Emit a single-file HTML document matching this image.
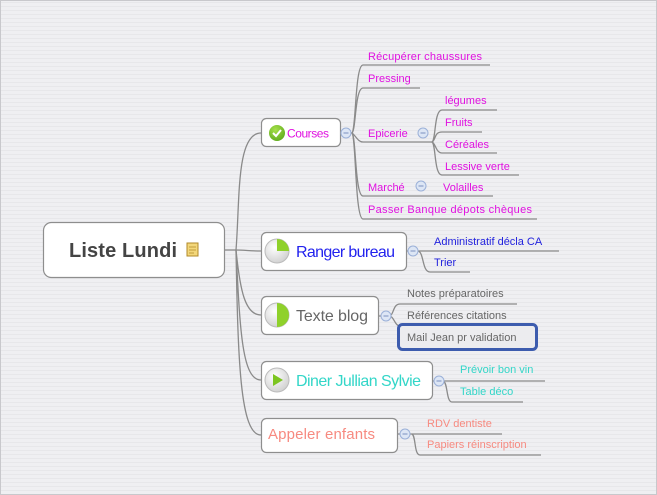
<!DOCTYPE html>
<html><head><meta charset="utf-8"><style>
html,body{margin:0;padding:0;width:657px;height:495px;overflow:hidden;background:#ededf0;}
svg{display:block}
text{font-family:"Liberation Sans","DejaVu Sans",sans-serif;}
</style></head><body>
<svg width="657" height="495" viewBox="0 0 657 495">
<defs>
<pattern id="st" width="4" height="4" patternUnits="userSpaceOnUse"><rect width="4" height="4" fill="#efeff2"/><rect y="2" width="4" height="1" fill="#e7e7ea"/></pattern>
<radialGradient id="gr" cx="0.4" cy="0.35" r="0.7"><stop offset="0" stop-color="#fff"/><stop offset="1" stop-color="#cfcfcf"/></radialGradient>
<radialGradient id="gg" cx="0.4" cy="0.3" r="0.8"><stop offset="0" stop-color="#a6e04a"/><stop offset="1" stop-color="#5aa71a"/></radialGradient>
</defs>
<rect width="657" height="495" fill="url(#st)"/>
<rect x="0.5" y="0.5" width="656" height="494" fill="none" stroke="#c8c8cc"/>
<g fill="none" stroke="#8a8a8a" stroke-width="1.3">
<path d="M224 250 H236"/>
<path d="M236 250 C240 200 236 133 261 133"/>
<path d="M236 250 C245 250 250 251 261 251"/>
<path d="M236 250 C240 290 245 315 261 315"/>
<path d="M236 250 C240 330 242 380 261 380"/>
<path d="M236 250 C238 360 240 435 261 435"/>
<path d="M340 133 H352"/>
<path d="M352 133 C356 130 355 65 363 65 H490"/>
<path d="M352 133 C356 130 355 88 363 88 H420"/>
<path d="M352 133 C356 136 358 142 363 142 H428"/>
<path d="M352 133 C356 136 355 196 363 196 H493"/>
<path d="M352 133 C356 136 355 219 363 219 H537"/>
<path d="M428 142 H432 C436 140 434 110 442 110 H497"/>
<path d="M432 142 C436 140 434 132 442 132 H482"/>
<path d="M432 142 C436 144 436 153 442 153 H497"/>
<path d="M432 142 C436 144 434 175 442 175 H519"/>
<path d="M406 251 H420 H559"/>
<path d="M418 251 C424 252 422 272 430 272 H470"/>
<path d="M378 316 H390"/>
<path d="M390 316 C394 314 393 304 400 304 H517"/>
<path d="M390 316 C394 317 395 326 400 326"/>
<path d="M432 381 H545"/>
<path d="M443 381 C448 382 446 402 452 402 H523"/>
<path d="M397 434 H410 C414 434 414 434 418 434 H502"/>
<path d="M412 434 C416 436 414 455 420 455 H541"/>
</g>
<rect x="43.5" y="222.5" width="181" height="55" rx="8" fill="#fff" stroke="#8e8e8e" stroke-width="1.2"/>
<text x="69" y="257" font-size="20" font-weight="bold" fill="#444" textLength="108">Liste Lundi</text>
<rect x="187" y="243" width="11" height="13" fill="#f3d77a" stroke="#b08a2a"/>
<path d="M189 247h7M189 250h7M189 253h5" stroke="#b08a2a" stroke-width="0.8"/>
<rect x="261.5" y="118.5" width="79" height="28" rx="5" fill="#fff" stroke="#8e8e8e" stroke-width="1.2"/>
<circle cx="277" cy="133" r="8" fill="url(#gg)"/>
<path d="M273 133 l3 3 l5 -6" stroke="#fff" stroke-width="2" fill="none"/>
<text x="287" y="137.5" font-size="12" fill="#e010e0" textLength="42">Courses</text>
<g font-size="11" fill="#e010e0">
<text x="368" y="60" textLength="114">Récupérer chaussures</text>
<text x="368" y="82">Pressing</text>
<text x="368" y="137">Epicerie</text>
<text x="445" y="104">légumes</text>
<text x="445" y="126">Fruits</text>
<text x="445" y="148">Céréales</text>
<text x="445" y="170">Lessive verte</text>
<text x="368" y="191">Marché</text>
<text x="443" y="191">Volailles</text>
<text x="368" y="213" textLength="164">Passer Banque dépots chèques</text>
</g>
<rect x="261.5" y="232.5" width="145" height="38" rx="5" fill="#fff" stroke="#8e8e8e" stroke-width="1.2"/>
<circle cx="277" cy="251" r="12" fill="url(#gr)" stroke="#bbb"/>
<path d="M277 251 V239 A12 12 0 0 1 289 251 Z" fill="#8fd12b"/>
<text x="296" y="257" font-size="16" fill="#2222ee" textLength="99">Ranger bureau</text>
<g font-size="11" fill="#2222dd">
<text x="434" y="245">Administratif décla CA</text>
<text x="434" y="266">Trier</text>
</g>
<rect x="261.5" y="296.5" width="117" height="38" rx="5" fill="#fff" stroke="#8e8e8e" stroke-width="1.2"/>
<circle cx="277" cy="315" r="12" fill="url(#gr)" stroke="#bbb"/>
<path d="M277 303 A12 12 0 0 1 277 327 Z" fill="#8fd12b"/>
<text x="296" y="321" font-size="16" fill="#666" textLength="72">Texte blog</text>
<g font-size="11" fill="#666">
<text x="407" y="297">Notes préparatoires</text>
<text x="407" y="319">Références citations</text>
</g>
<rect x="398.5" y="324.5" width="138" height="25" rx="4" fill="#ececef" stroke="#3d5cae" stroke-width="3"/>
<text x="407" y="341" font-size="11" fill="#666">Mail Jean pr validation</text>
<rect x="261.5" y="361.5" width="171" height="38" rx="5" fill="#fff" stroke="#8e8e8e" stroke-width="1.2"/>
<circle cx="277" cy="380" r="12" fill="url(#gr)" stroke="#bbb"/>
<path d="M273 374 L283 380 L273 386 Z" fill="#7cc520"/>
<text x="296" y="386" font-size="16" fill="#33d6c8" textLength="125">Diner Jullian Sylvie</text>
<g font-size="11" fill="#33d6c8">
<text x="460" y="373">Prévoir bon vin</text>
<text x="460" y="395">Table déco</text>
</g>
<rect x="261.5" y="418.5" width="136" height="34" rx="5" fill="#fff" stroke="#8e8e8e" stroke-width="1.2"/>
<text x="268" y="439" font-size="15" fill="#f78a80" textLength="107">Appeler enfants</text>
<g font-size="11" fill="#f78a80">
<text x="427" y="427">RDV dentiste</text>
<text x="427" y="448">Papiers réinscription</text>
</g>
<g fill="#dde6f5" stroke="#9bb0d8" stroke-width="1">
<circle cx="346" cy="133" r="5"/><circle cx="423" cy="133" r="5"/><circle cx="421" cy="186" r="5"/>
<circle cx="413" cy="251" r="5"/><circle cx="386" cy="316" r="5"/><circle cx="439" cy="381" r="5"/><circle cx="405" cy="434" r="5"/>
</g>
<g stroke="#7b90c0" stroke-width="1">
<path d="M343.5 133h5M420.5 133h5M418.5 186h5M410.5 251h5M383.5 316h5M436.5 381h5M402.5 434h5"/>
</g>
</svg>
</body></html>
